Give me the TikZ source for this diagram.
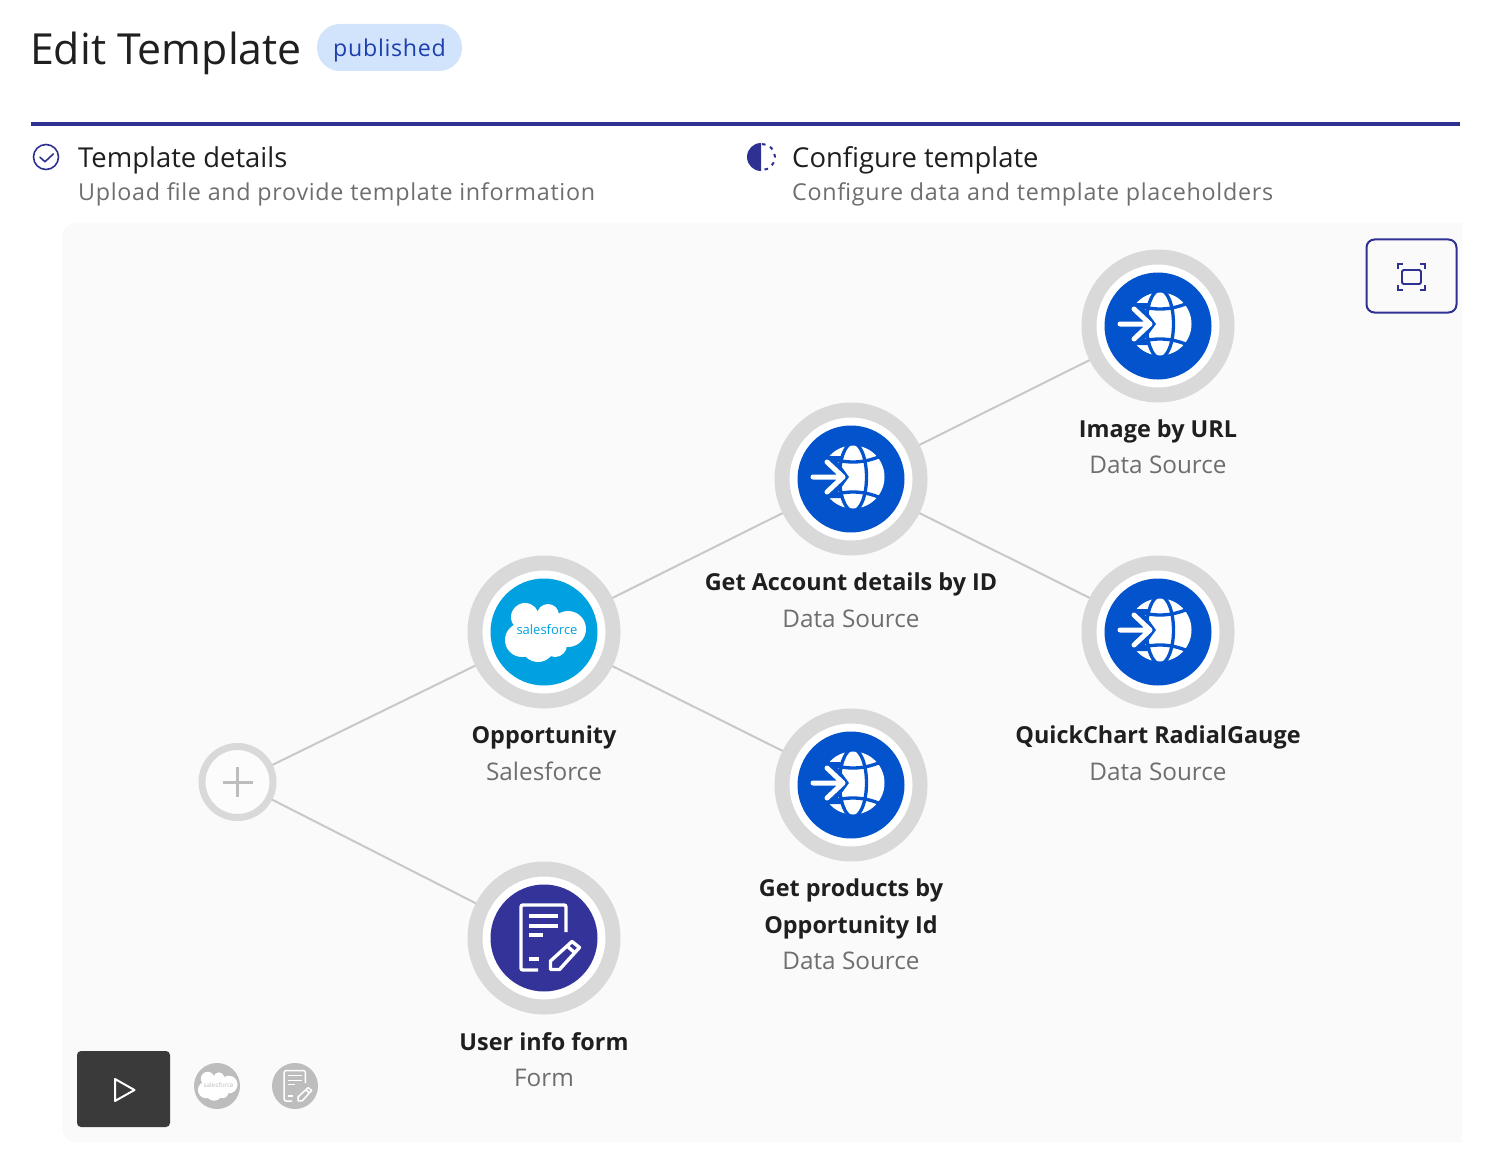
\documentclass[tikz,border=0pt]{standalone}
\usepackage{fontspec}
\setmainfont{Open Sans}
\newfontfamily\spacedfont[LetterSpace=3.0]{Open Sans}
\definecolor{barindigo}{HTML}{2E3192}
\definecolor{ringgray}{HTML}{D9D9D9}
\definecolor{panelgray}{HTML}{FAFAFA}
\definecolor{edgegray}{HTML}{C8C8C8}
\definecolor{webblue}{HTML}{0353CC}
\definecolor{cloudblue}{HTML}{00A1E0}
\definecolor{formindigo}{HTML}{333399}
\definecolor{pillblue}{HTML}{D2E3FC}
\definecolor{pilltext}{HTML}{1E40AF}
\definecolor{inkgray}{HTML}{1F1F1F}
\definecolor{subgray}{HTML}{6E6E6E}
\definecolor{minigray}{HTML}{BDBDBD}
\definecolor{playgray}{HTML}{3A3A3A}
\tikzset{
  sourcering/.style={circle,draw=ringgray,fill=white,line width=15pt,minimum size=138pt,inner sep=0pt},
  startring/.style={circle,draw=ringgray,fill=white!50!panelgray,line width=7pt,minimum size=71pt,inner sep=0pt},
  disc/.style={circle,minimum size=107pt,inner sep=0pt},
  minidisc/.style={circle,fill=minigray,minimum size=46pt,inner sep=0pt},
  link/.style={draw=edgegray,line width=2pt},
  stepname/.style={anchor=base west,inner sep=0pt,text=inkgray,font=\fontsize{27.4}{32}\selectfont},
  stepnote/.style={anchor=base west,inner sep=0pt,text=subgray,font=\spacedfont\fontsize{23.3}{28}\selectfont},
  srcname/.style={anchor=base,inner sep=0pt,text=inkgray,align=center,font=\bfseries\fontsize{23.4}{36.6}\selectfont},
  srckind/.style={anchor=base,inner sep=0pt,text=subgray,font=\fontsize{24.3}{30}\selectfont},
  globeicon/.pic={
    \fill[white] (2,-2) circle (31.5);
    \begin{scope}[draw=webblue,line width=3.3pt]
      \draw (2,-2) ellipse (13.5 and 34);
      \draw (-32,-26) .. controls (-10,-14) and (14,-14) .. (36,-26);
      \draw (-32,22) .. controls (-10,10) and (14,10) .. (36,22);
    \end{scope}
    \fill[webblue] (-36,-23) -- (-9,-23) -- (-13,-17) -- (-2,-2) -- (-13,13) -- (-9,19) -- (-36,19) -- cycle;
    \draw[white,line width=5pt,line cap=round,line join=round] (-38,-2) -- (-8,-2) (-24,-17) -- (-8,-2) -- (-24,13);
  },
  pics/cloudicon/.style={code={
    \foreach \lobex/\lobey/\lober in {-19/-15/14,4/-17/11,24/-3/18,-22/8/17,-6/13/17,11/13/12,0/0/16}
      \fill[white] (\lobex,\lobey) circle (\lober);
    \node (brand) at (3,-2) [transform shape,inner sep=0pt,text=#1,font=\fontsize{13}{15}\selectfont] {salesforce};
  }},
  formicon/.pic={
    \draw[white,rounded corners=2pt] (22,-6) -- (22,-33) -- (-23,-33) -- (-23,32) -- (-6,32);
    \draw[white] (-15,-22) -- (14,-22) (-15,-12) -- (14,-12) (-15,-3) -- (-1,-3) (-15,21) -- (-5,21);
    \draw[white,line join=round] (6.5,31.5) -- (6.5,23) -- (28,3.5) -- (35.5,9.5) -- (15.5,31.5) -- cycle (23,8) -- (31,15);
  },
}
\begin{document}
\begin{tikzpicture}[x=1pt,y=-1pt]
  \useasboundingbox (0,0) rectangle (1504,1158);
  \fill[white] (0,0) rectangle (1504,1158);
  \fill[panelgray,rounded corners=14pt] (1462,223) -- (62,223) -- (62,1142) -- (1462,1142);
  \fill[panelgray] (1440,223) rectangle (1462,1142);
  \fill[barindigo] (31,122) rectangle (1460,126);

  \node (title) at (30,65) [anchor=base west,inner sep=0pt,text=inkgray,font=\fontsize{42.8}{52}\selectfont] {Edit Template};
  \node (pill) at (389.5,47.5) [rounded corners=23pt,fill=pillblue,minimum width=145pt,minimum height=47pt,inner sep=0pt] {};
  \node (status) at (389.5,56.5) [anchor=base,inner sep=0pt,text=pilltext,font=\spacedfont\fontsize{23.2}{28}\selectfont] {published};

  \node (checkring) at (46,157) [circle,draw=barindigo,line width=1.6pt,minimum size=25pt,inner sep=0pt] {};
  \draw[barindigo,line width=1.6pt,line join=round,line cap=round] (40,157.3) -- (45,161.7) -- (53.3,154);
  \node (details) at (78,168) [stepname] {Template details};
  \node (detailsnote) at (78,201) [stepnote] {Upload file and provide template information};

  \fill[barindigo] (761,143) arc (-90:-270:14) -- cycle;
  \draw[barindigo,line width=2pt,dash pattern=on 3.6pt off 5pt] (762,144) arc (-90:90:13);
  \node (configure) at (792,168) [stepname] {Configure template};
  \node (configurenote) at (792,201) [stepnote] {Configure data and template placeholders};

  \node (fitbox) at (1411.5,276) [draw=barindigo,fill=panelgray,rounded corners=8pt,line width=2pt,minimum width=90pt,minimum height=73pt,inner sep=0pt] {};
  \node (fitframe) at (1411.5,277) [draw=barindigo,rounded corners=1.5pt,line width=1.8pt,minimum width=19pt,minimum height=14pt,inner sep=0pt] {};
  \draw[barindigo,line width=1.8pt]
    (1398,269) -- (1398,264) -- (1403,264) (1420,264) -- (1425,264) -- (1425,269)
    (1398,285) -- (1398,290) -- (1403,290) (1420,290) -- (1425,290) -- (1425,285);

  \node (start) at (237.5,782) [startring] {};
  \node (opp) at (544,632) [sourcering] {};
  \node (form) at (544,938) [sourcering] {};
  \node (account) at (851,479) [sourcering] {};
  \node (products) at (851,785) [sourcering] {};
  \node (image) at (1158,326) [sourcering] {};
  \node (gauge) at (1158,632) [sourcering] {};

  \draw[link] (start) -- (opp);
  \draw[link] (start) -- (form);
  \draw[link] (opp) -- (account);
  \draw[link] (opp) -- (products);
  \draw[link] (account) -- (image);
  \draw[link] (account) -- (gauge);

  \draw[minigray,line width=3pt] (222.5,782) -- (252.5,782) (237.5,767) -- (237.5,797);

  \node (oppdisc) at (opp) [disc,fill=cloudblue] {};
  \pic at (opp) {cloudicon=cloudblue};
  \node (formdisc) at (form) [disc,fill=formindigo] {};
  \pic at (form) [line width=3.4pt] {formicon};
  \foreach \src in {account,products,image,gauge} {
    \node (\src disc) at (\src) [disc,fill=webblue] {};
    \pic at (\src) {globeicon};
  }

  \node (oppname) at (544,743) [srcname] {Opportunity};
  \node (oppkind) at (544,780) [srckind] {Salesforce};
  \node (formname) at (544,1050) [srcname] {User info form};
  \node (formkind) at (544,1086) [srckind] {Form};
  \node (accountname) at (851,590) [srcname] {Get Account details by ID};
  \node (accountkind) at (851,627) [srckind] {Data Source};
  \node (productsname) at (851,933) [srcname] {Get products by\\Opportunity Id};
  \node (productskind) at (851,969) [srckind] {Data Source};
  \node (imagename) at (1158,437) [srcname] {Image by URL};
  \node (imagekind) at (1158,473) [srckind] {Data Source};
  \node (gaugename) at (1158,743) [srcname] {QuickChart RadialGauge};
  \node (gaugekind) at (1158,780) [srckind] {Data Source};

  \node (play) at (123.5,1089) [fill=playgray,rounded corners=4pt,minimum width=93pt,minimum height=76pt,inner sep=0pt] {};
  \draw[white,line width=2pt,line join=round] (115,1079) -- (134.5,1090) -- (115,1101) -- cycle;
  \node (minicloud) at (217,1086) [minidisc] {};
  \pic at (minicloud) [scale=.49] {cloudicon=minigray};
  \node (miniform) at (295,1086) [minidisc] {};
  \pic at (miniform) [scale=.47,line width=1.5pt] {formicon};
\end{tikzpicture}
\end{document}
